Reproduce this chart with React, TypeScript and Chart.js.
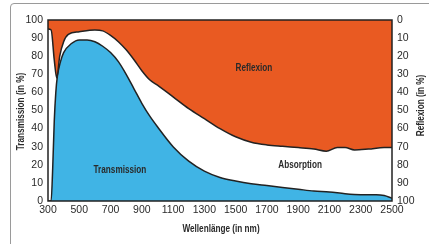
import React, { useEffect, useRef } from "react";
import { Chart, registerables } from "chart.js";

Chart.register(...registerables);

// Wavelength ticks (nm)
const xTickValues = [300, 500, 700, 900, 1100, 1300, 1500, 1700, 1900, 2100, 2300, 2500];

// Transmission curve (left axis, %)
const transWavelength = [300, 320, 330, 340, 350, 360, 380, 400, 450, 500, 550, 600, 650, 700, 750, 800, 850, 900, 950, 1000, 1100, 1200, 1300, 1400, 1500, 1600, 1700, 1800, 1900, 2000, 2100, 2200, 2300, 2400, 2450, 2500];
const transmission = [0, 0, 18, 44, 60, 69, 77, 82, 87, 89, 89, 88, 85.5, 82, 77, 70, 62, 54, 47, 41, 30, 22, 16.5, 13, 11, 9.5, 8.5, 7.5, 6.5, 5.5, 5, 4, 3.5, 3.5, 3, 1.5];

// Reflexion curve (right axis, reversed, %)
const reflWavelength = [300, 320, 340, 356, 375, 400, 430, 500, 600, 650, 700, 750, 800, 850, 900, 950, 1000, 1100, 1200, 1300, 1400, 1500, 1600, 1700, 1800, 1900, 2000, 2080, 2150, 2200, 2260, 2350, 2450, 2500];
const reflexion = [5, 5.5, 22, 32, 20, 12, 8, 6.5, 5.5, 6, 8.5, 12, 16.5, 22, 28, 33, 36, 42.5, 49, 54.5, 60, 64.5, 67.5, 69, 69.8, 70.5, 71.3, 72.5, 70.5, 70.5, 71.8, 71.3, 70.5, 70.5];

// Area labels
const areaLabels = ["Transmission", "Reflexion", "Absorption"];
const areaLabelX = [760, 1617, 1912];
const areaLabelY = [17, 73.5, 19.6];

// Axis titles
const xTitle = "Wellenlänge (in nm)";
const yTitle = "Transmission (in %)";
const y2Title = "Reflexion (in %)";

const SANS = "'Liberation Sans', Arial, sans-serif";
const TEXT = "#2a2a2a";
const LINE = "#222222";
const SQUEEZE = 0.78;

function narrowText(ctx: CanvasRenderingContext2D, text: string, x: number, y: number, rot: number) {
  ctx.save();
  ctx.translate(x, y);
  ctx.rotate(rot);
  ctx.scale(SQUEEZE, 1);
  ctx.fillText(text, 0, 0);
  ctx.restore();
}

const decor = {
  id: "decor",
  beforeDraw(chart: any) {
    const { ctx } = chart;
    ctx.save();
    ctx.fillStyle = "#ffffff";
    ctx.fillRect(0, 0, chart.width, chart.height);
    ctx.strokeStyle = "#9a9a9a";
    ctx.lineWidth = 1;
    ctx.beginPath();
    ctx.moveTo(10.5, chart.height);
    ctx.lineTo(10.5, 7);
    ctx.arcTo(10.5, 3.5, 14, 3.5, 3.5);
    ctx.lineTo(chart.width, 3.5);
    ctx.stroke();
    ctx.restore();
  },
  afterDatasetsDraw(chart: any) {
    const { ctx, chartArea: a, scales } = chart;
    ctx.save();
    ctx.strokeStyle = LINE;
    ctx.lineWidth = 1.5;
    ctx.strokeRect(a.left, a.top, a.right - a.left, a.bottom - a.top);
    ctx.font = `bold 10.5px ${SANS}`;
    ctx.fillStyle = TEXT;
    ctx.textAlign = "center";
    ctx.textBaseline = "middle";
    areaLabels.forEach((t, i) => {
      narrowText(ctx, t, scales.x.getPixelForValue(areaLabelX[i]), scales.y.getPixelForValue(areaLabelY[i]), 0);
    });
    const cx = (a.left + a.right) / 2;
    const cy = (a.top + a.bottom) / 2;
    narrowText(ctx, xTitle, cx + 1, 229, 0);
    narrowText(ctx, yTitle, 21, cy + 1, -Math.PI / 2);
    narrowText(ctx, y2Title, 421.5, cy - 5, -Math.PI / 2);
    ctx.restore();
  },
};

export default function App() {
  const ref = useRef<HTMLCanvasElement>(null);
  useEffect(() => {
    if (!ref.current) return;
    const tickFont = { family: SANS, size: 10.5 };
    const chart = new Chart(ref.current, {
      type: "line",
      data: {
        datasets: [
          {
            label: "Reflexion",
            data: reflWavelength.map((x, i) => ({ x, y: reflexion[i] })),
            yAxisID: "y2",
            fill: "end",
            backgroundColor: "#E95A22",
            borderColor: LINE,
            borderWidth: 1.5,
            pointRadius: 0,
            cubicInterpolationMode: "monotone",
          },
          {
            label: "Transmission",
            data: transWavelength.map((x, i) => ({ x, y: transmission[i] })),
            yAxisID: "y",
            fill: "origin",
            backgroundColor: "#40B4E5",
            borderColor: LINE,
            borderWidth: 1.5,
            pointRadius: 0,
            cubicInterpolationMode: "monotone",
          },
        ],
      },
      options: {
        animation: false,
        responsive: false,
        devicePixelRatio: 1,
        layout: { padding: { top: 20, left: 0, right: 0, bottom: 0 } },
        plugins: { legend: { display: false }, tooltip: { enabled: false } },
        scales: {
          x: {
            type: "linear",
            min: 300,
            max: 2500,
            afterBuildTicks: (s: any) => {
              s.ticks = xTickValues.map((v) => ({ value: v }));
            },
            afterFit: (s: any) => {
              s.height = 43;
            },
            ticks: { font: tickFont, color: TEXT, padding: 3, autoSkip: false, maxRotation: 0, callback: (v: any) => String(v) },
            grid: { display: false, drawTicks: false },
            border: { display: false },
          },
          y: {
            position: "left",
            min: 0,
            max: 100,
            afterFit: (s: any) => {
              s.width = 48;
            },
            ticks: { stepSize: 10, font: tickFont, color: TEXT, padding: 5 },
            grid: { display: false, drawTicks: false },
            border: { display: false },
          },
          y2: {
            position: "right",
            min: 0,
            max: 100,
            reverse: true,
            afterFit: (s: any) => {
              s.width = 37;
            },
            ticks: { stepSize: 10, font: tickFont, color: TEXT, padding: 5 },
            grid: { display: false, drawTicks: false },
            border: { display: false },
          },
        },
      },
      plugins: [decor],
    });
    return () => chart.destroy();
  }, []);
  return (
    <div style={{ position: "fixed", left: 0, top: 0, width: 429, height: 244 }}>
      <canvas ref={ref} width={429} height={244} style={{ display: "block" }} />
    </div>
  );
}
